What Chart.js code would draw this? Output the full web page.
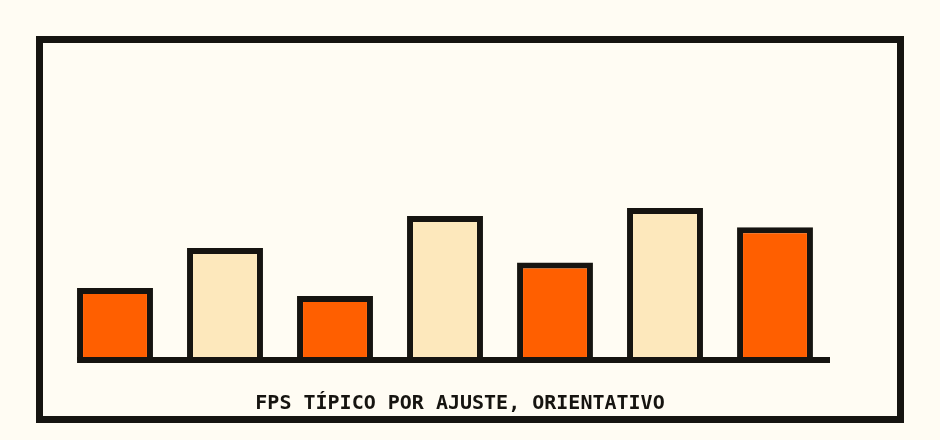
<!DOCTYPE html>
<html>
<head>
<meta charset="utf-8">
<script src="https://cdn.jsdelivr.net/npm/chart.js@4"></script>
<style>
  html, body { margin: 0; padding: 0; background: #fffcf3; }
  body { width: 940px; height: 440px; position: relative; overflow: hidden; }
  .frame {
    position: absolute; left: 36px; top: 36px;
    width: 854px; height: 373px;
    border: 7px solid #161410;
  }
  .frame canvas { position: absolute; left: 0; top: 0; }
</style>
</head>
<body>
<div class="frame"><canvas id="fpsChart"></canvas></div>
<script>
const categories = ['Ajuste 1', 'Ajuste 2', 'Ajuste 3', 'Ajuste 4', 'Ajuste 5', 'Ajuste 6', 'Ajuste 7'];
const fpsValues = [45, 70, 40, 90, 61, 95, 83];
const barColors = ['#ff5f00', '#fde8bc', '#ff5f00', '#fde8bc', '#ff5f00', '#fde8bc', '#ff5f00'];
const ink = '#161410';

// baseline from the first bar to the right edge of the plot
const baseline = {
    id: 'baseline',
    afterDatasetsDraw(chart) {
        const ctx = chart.ctx;
        const bars = chart.getDatasetMeta(0).data;
        const y = chart.scales.y.getPixelForValue(0);
        const x0 = bars[0].x - bars[0].width / 2;
        ctx.save();
        ctx.strokeStyle = ink;
        ctx.lineWidth = 6;
        ctx.beginPath();
        ctx.moveTo(x0, y);
        ctx.lineTo(chart.chartArea.right, y);
        ctx.stroke();
        ctx.restore();
    }
};

// invisible side axes, only used to hold space
const blankAxis = (position, width) => ({
    position: position,
    display: true,
    grid: { display: false },
    border: { display: false },
    ticks: { display: false },
    afterFit(scale) { scale.width = width; }
});

const ctxFps = document.getElementById('fpsChart').getContext('2d');
const fpsChart = new Chart(ctxFps, {
    type: 'bar',
    data: {
        labels: categories,
        datasets: [{
            label: 'FPS',
            data: fpsValues,
            backgroundColor: barColors,
            borderColor: ink,
            borderWidth: 6,
            borderSkipped: 'start',
            barPercentage: 0.69,
            categoryPercentage: 1
        }]
    },
    options: {
        responsive: true,
        maintainAspectRatio: false,
        animation: false,
        layout: { padding: { left: 0, right: 20, top: 157, bottom: 0 } },
        scales: {
            x: { display: false },
            y: Object.assign(blankAxis('left', 17), { min: 0, max: 100 }),
            yRight: Object.assign(blankAxis('right', 47), { type: 'linear', min: 0, max: 100 })
        },
        plugins: {
            legend: { display: false },
            tooltip: { enabled: false },
            title: {
                display: true,
                position: 'bottom',
                text: 'FPS TÍPICO POR AJUSTE, ORIENTATIVO',
                color: ink,
                font: { family: 'DejaVu Sans Mono', size: 20, weight: 'bold', lineHeight: 1.2 },
                padding: { top: 32, bottom: 0 }
            }
        }
    },
    plugins: [baseline]
});
</script>
</body>
</html>
